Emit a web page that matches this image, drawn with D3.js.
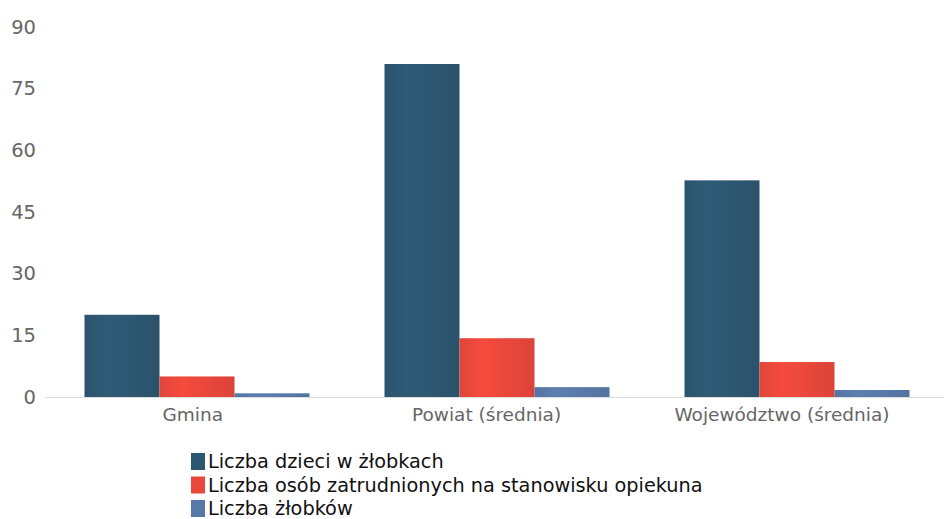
<!DOCTYPE html>
<html>
<head>
<meta charset="utf-8">
<script src="https://cdn.jsdelivr.net/npm/d3@7"></script>
<style>
body { margin: 0; background: #fff; }
svg { display: block; font-family: "DejaVu Sans", sans-serif; }
</style>
</head>
<body>
<div id="chart"></div>
<script>
// data
var categories = ["Gmina", "Powiat (średnia)", "Województwo (średnia)"];
var seriesNames = ["Liczba dzieci w żłobkach", "Liczba osób zatrudnionych na stanowisku opiekuna", "Liczba żłobków"];
var dzieci = [20, 81, 52.7];
var opiekunowie = [5, 14.3, 8.5];
var zlobki = [0.9, 2.4, 1.7];
var yTicks = [0, 15, 30, 45, 60, 75, 90];
var colors = ["#2d5671", "#e8473b", "#5879a8"];

var width = 944, height = 519;
var y0 = 397, yTop = 27;

var svg = d3.select("#chart").append("svg")
    .attr("width", width)
    .attr("height", height);

var defs = svg.append("defs");
colors.forEach(function(c, i) {
  var g = defs.append("linearGradient").attr("id", "grad" + i)
      .attr("x1", "0%").attr("x2", "100%").attr("y1", "0%").attr("y2", "0%");
  g.append("stop").attr("offset", "0%").attr("stop-color", d3.color(c).darker(0.1));
  g.append("stop").attr("offset", "30%").attr("stop-color", d3.color(c).brighter(0.15));
  g.append("stop").attr("offset", "100%").attr("stop-color", d3.color(c).darker(0.15));
});

var x = d3.scaleBand()
    .domain(categories)
    .range([47, 947])
    .paddingInner(0.25)
    .paddingOuter(0.125);

var xs = d3.scaleBand()
    .domain([0, 1, 2])
    .range([0, x.bandwidth()]);

var y = d3.scaleLinear()
    .domain([0, 90])
    .range([y0, yTop]);

// y axis labels
var yAxis = svg.append("g")
    .attr("transform", "translate(36,0)")
    .call(d3.axisLeft(y).tickValues(yTicks).tickSize(0).tickPadding(0));
yAxis.select(".domain").remove();
yAxis.selectAll("text")
    .attr("fill", "#666")
    .style("font-size", "19.5px")
    .style("font-family", "DejaVu Sans, sans-serif");

// bars
var series = [dzieci, opiekunowie, zlobki];
series.forEach(function(vals, si) {
  svg.append("g").selectAll("rect")
      .data(vals)
    .enter().append("rect")
      .attr("x", function(d, i) { return x(categories[i]) + xs(si); })
      .attr("width", xs.bandwidth())
      .attr("y", function(d) { return y(d); })
      .attr("height", function(d) { return y0 - y(d); })
      .attr("fill", "url(#grad" + si + ")");
});

// baseline + category labels
var xAxis = svg.append("g")
    .attr("transform", "translate(0," + y0 + ")")
    .call(d3.axisBottom(x).tickSize(0).tickPadding(11));
xAxis.select(".domain")
    .attr("stroke", "#ddd")
    .attr("d", "M45,0.5H944");
xAxis.selectAll("text")
    .attr("fill", "#666")
    .style("font-size", "18.5px")
    .style("font-family", "DejaVu Sans, sans-serif")
    // labels in the original sit a bit left of the group centre
    .attr("dx", function() { return -0.07 * this.getComputedTextLength(); });

// legend
var legend = svg.append("g").attr("transform", "translate(191,453)");
seriesNames.forEach(function(name, i) {
  var row = legend.append("g").attr("transform", "translate(0," + (i * 23.5) + ")");
  row.append("rect")
      .attr("width", 14).attr("height", 17)
      .attr("fill", colors[i]);
  row.append("text")
      .attr("x", 17).attr("y", 15)
      .attr("fill", "#111")
      .style("font-size", "19.3px")
      .text(name);
});
</script>
</body>
</html>
